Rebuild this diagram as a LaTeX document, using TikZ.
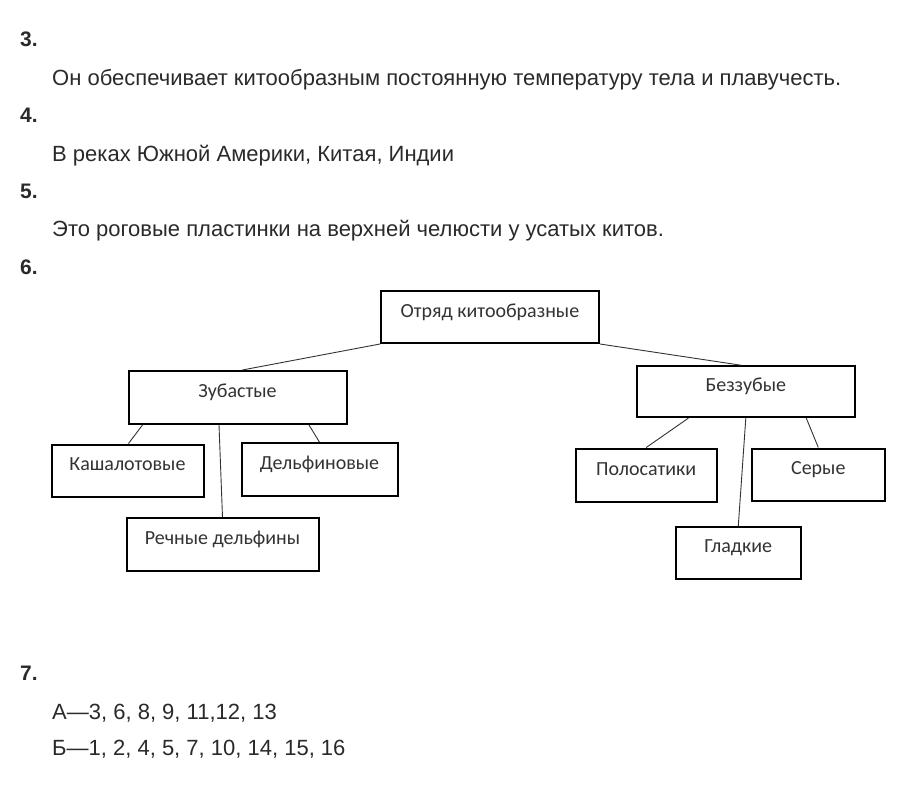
\documentclass[tikz,border=0pt]{standalone}
\usepackage{fontspec}
\setmainfont{Liberation Sans}
\newfontfamily\boxfont{Carlito}
\definecolor{txt}{HTML}{2A2A2A}
\definecolor{boxtxt}{HTML}{333333}
\definecolor{linec}{HTML}{333333}
\tikzset{
  num/.style={anchor=base west, inner sep=0pt, font=\fontsize{21}{25}\selectfont\bfseries, text=txt},
  body/.style={anchor=base west, inner sep=0pt, font=\fontsize{22}{26}\selectfont, text=txt},
  tbox/.style={draw=black, line width=2pt, inner sep=0pt, text height=12pt, text depth=12pt,
    font=\boxfont\fontsize{20}{23}\selectfont, text=boxtxt},
  link/.style={draw=linec, line width=0.9pt}
}
\begin{document}
\begin{tikzpicture}[x=1pt,y=-1pt]
\useasboundingbox (0,0) rectangle (899,808);
\fill[white] (0,0) rectangle (899,808);

\node[num] (n3) at (20,47) {3.};
\node[body] (t3) at (52,85.5) {Он обеспечивает китообразным постоянную температуру тела и плавучесть.};
\node[num] (n4) at (20,122.5) {4.};
\node[body] (t4) at (52,161) {В реках Южной Америки, Китая, Индии};
\node[num] (n5) at (20,198) {5.};
\node[body] (t5) at (52,236) {Это роговые пластинки на верхней челюсти у усатых китов.};
\node[num] (n6) at (20,274) {6.};
\node[num] (n7) at (20,680) {7.};
\node[body] (a7) at (52,719) {А—3, 6, 8, 9, 11,12, 13};
\node[body] (b7) at (52,755) {Б—1, 2, 4, 5, 7, 10, 14, 15, 16};

\node[tbox, minimum width=218pt, minimum height=52pt] (otr) at (490,317) {Отряд китообразные};
\node[tbox, minimum width=218pt, minimum height=53pt] (zub) at (237.5,397.5) {Зубастые};
\node[tbox, minimum width=152pt, minimum height=52pt] (kash) at (127.5,470.5) {Кашалотовые};
\node[tbox, minimum width=156pt, minimum height=53pt] (delf) at (319.5,469.7) {Дельфиновые};
\node[tbox, minimum width=192pt, minimum height=53pt] (rech) at (222.5,544.7) {Речные дельфины};
\node[tbox, minimum width=218pt, minimum height=51pt] (bez) at (745.8,391.7) {Беззубые};
\node[tbox, minimum width=141pt, minimum height=53pt] (pol) at (646.2,475) {Полосатики};
\node[tbox, minimum width=133pt, minimum height=52pt] (ser) at (818.3,474.5) {Серые};
\node[tbox, minimum width=125pt, minimum height=52pt] (gla) at (738.3,552.8) {Гладкие};

\draw[link] (otr.south west) -- ([xshift=114.8pt]zub.north west);
\draw[link] (otr.south east) -- ([xshift=105pt]bez.north west);
\draw[link] ([xshift=15pt]zub.south west) -- ([xshift=1pt]kash.north);
\draw[link] ([xshift=91.5pt]zub.south west) -- (rech.north);
\draw[link] ([xshift=181.5pt]zub.south west) -- (delf.north);
\draw[link] ([xshift=52.5pt]bez.south west) -- (pol.north);
\draw[link] (bez.south) -- (gla.north);
\draw[link] ([xshift=170.5pt]bez.south west) -- (ser.north);
\end{tikzpicture}
\end{document}
